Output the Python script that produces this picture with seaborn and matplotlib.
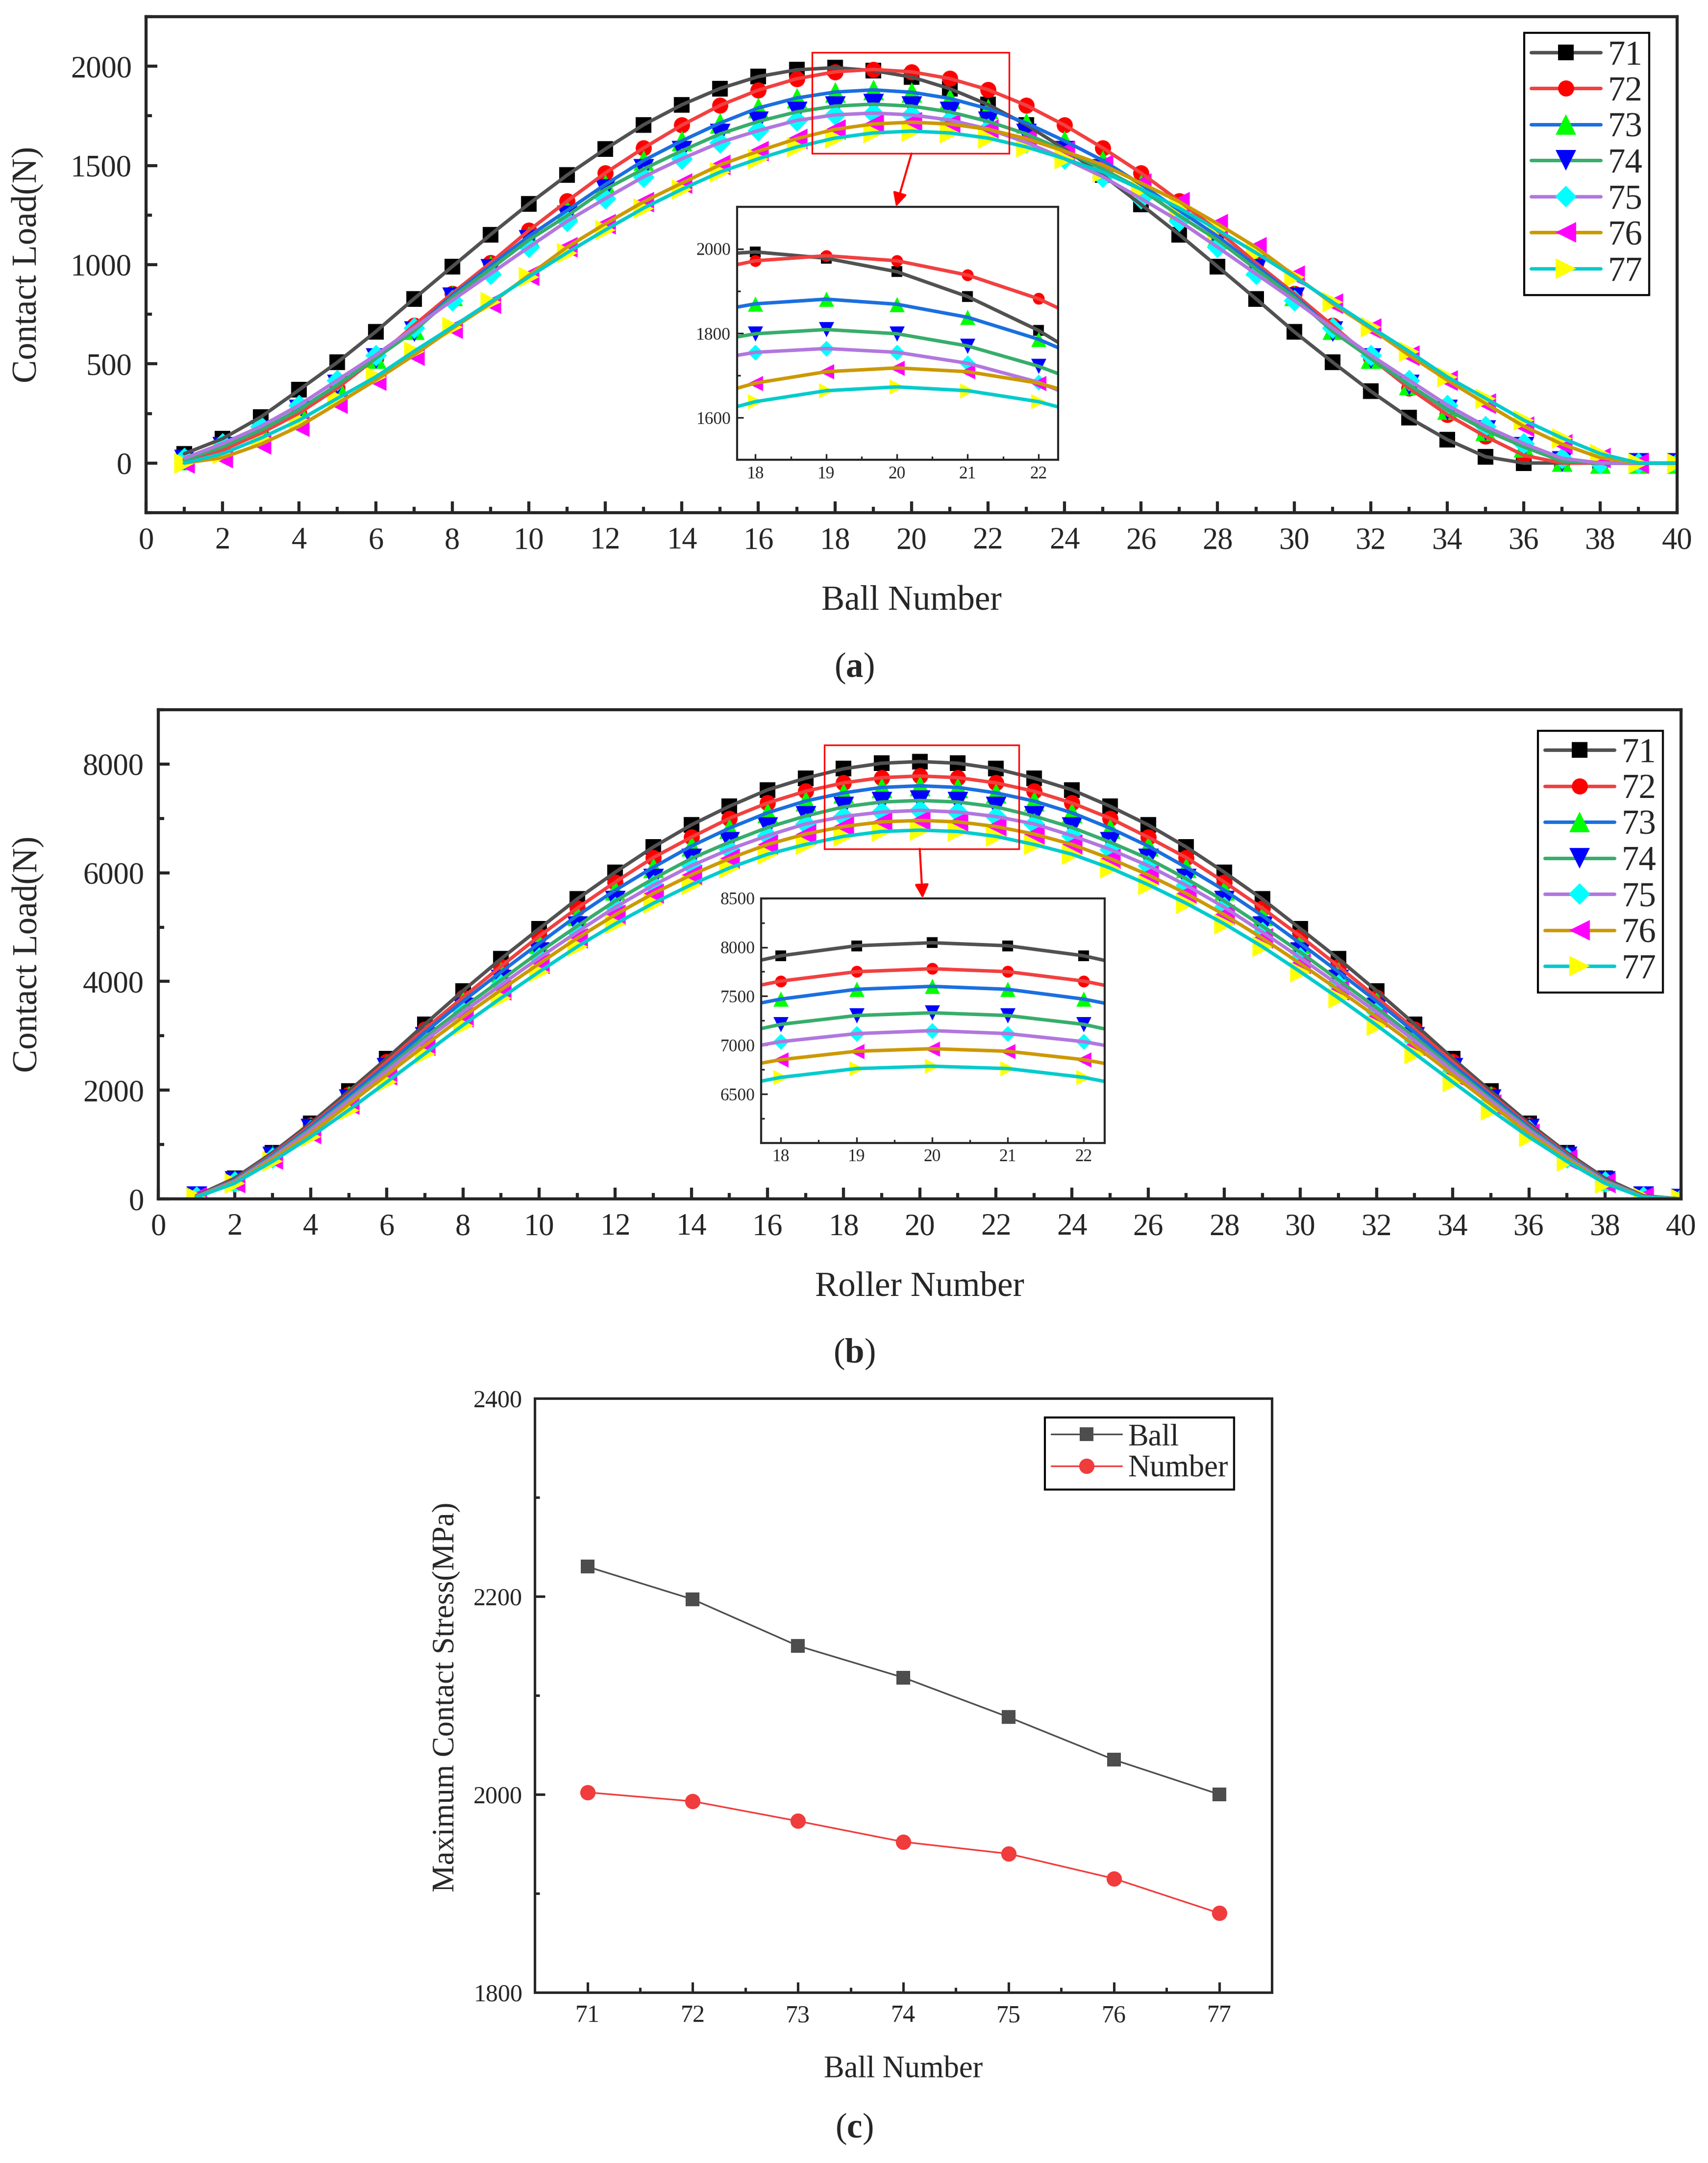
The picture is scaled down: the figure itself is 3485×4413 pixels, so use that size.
import numpy as np
import pandas as pd
import matplotlib
matplotlib.use("Agg")
import matplotlib.pyplot as plt
from matplotlib.lines import Line2D
from matplotlib.patches import Rectangle
from matplotlib.ticker import MultipleLocator, FixedLocator
import seaborn as sns

sns.set_style("ticks")
plt.rcParams['font.family'] = ['Liberation Serif', 'DejaVu Serif']
plt.rcParams['mathtext.fontset'] = 'custom'
plt.rcParams['mathtext.rm'] = 'Liberation Serif'
plt.rcParams['mathtext.bf'] = 'Liberation Serif:bold'

# ---- data ----
cases = ['71', '72', '73', '74', '75', '76', '77']
positions = list(range(1, 41))

# (a) ball contact load
a71 = [47, 123, 232, 369, 508, 662, 828, 990, 1151, 1306, 1451, 1583, 1705, 1806, 1888, 1948, 1982, 1993, 1978, 1946,
       1887, 1807, 1705, 1583, 1451, 1303, 1151, 990, 828, 662, 509, 362, 228, 118, 32, 0, 0, 0, 0, 0]
a72 = [16, 65, 150, 252, 378, 528, 694, 855, 1009, 1172, 1320, 1462, 1588, 1703, 1803, 1880, 1937, 1972, 1984, 1972,
       1938, 1882, 1803, 1703, 1588, 1462, 1320, 1172, 1009, 855, 694, 530, 378, 244, 134, 39, 0, 0, 0, 0]
a73 = [16, 82, 166, 270, 394, 528, 673, 844, 994, 1143, 1273, 1404, 1525, 1624, 1714, 1790, 1840, 1870, 1881, 1869,
       1838, 1786, 1714, 1624, 1525, 1404, 1273, 1143, 994, 844, 673, 528, 394, 270, 166, 82, 10, 0, 0, 0]
a74 = [16, 82, 166, 268, 394, 528, 665, 835, 978, 1124, 1246, 1380, 1482, 1574, 1659, 1722, 1770, 1799, 1809, 1799,
       1770, 1722, 1659, 1574, 1482, 1380, 1246, 1124, 978, 835, 665, 528, 394, 268, 166, 82, 10, 0, 0, 0]
a75 = [24, 98, 185, 292, 418, 544, 681, 820, 954, 1088, 1219, 1333, 1443, 1534, 1616, 1676, 1727, 1755, 1764, 1755,
       1729, 1684, 1616, 1534, 1443, 1333, 1219, 1088, 954, 820, 681, 544, 418, 292, 185, 98, 24, 0, 0, 0]
a76 = [0, 27, 95, 185, 300, 418, 544, 678, 804, 946, 1088, 1206, 1317, 1411, 1503, 1572, 1635, 1682, 1709, 1718,
       1709, 1682, 1635, 1572, 1503, 1411, 1317, 1206, 1088, 946, 804, 678, 544, 418, 300, 185, 95, 27, 0, 0]
a77 = [0, 47, 126, 216, 326, 434, 563, 686, 812, 938, 1060, 1175, 1285, 1380, 1467, 1534, 1593, 1638, 1664, 1673,
       1664, 1638, 1593, 1534, 1467, 1380, 1285, 1175, 1060, 938, 812, 686, 563, 434, 326, 216, 126, 47, 0, 0]

# (b) roller contact load
b71 = [60, 379, 853, 1394, 1983, 2584, 3215, 3828, 4417, 4970, 5517, 6010, 6473, 6881, 7224, 7525, 7741, 7913, 8015, 8046,
       8015, 7913, 7741, 7525, 7224, 6881, 6473, 6010, 5517, 4970, 4417, 3828, 3215, 2584, 1983, 1394, 853, 379, 60, 0]
b72 = [50, 349, 823, 1352, 1923, 2524, 3125, 3708, 4279, 4832, 5349, 5830, 6280, 6653, 7002, 7284, 7500, 7654, 7750, 7780,
       7750, 7654, 7500, 7284, 7002, 6653, 6280, 5830, 5349, 4832, 4279, 3708, 3125, 2524, 1923, 1352, 823, 349, 50, 0]
b73 = [45, 340, 800, 1322, 1893, 2464, 3065, 3636, 4177, 4700, 5211, 5679, 6100, 6491, 6821, 7104, 7320, 7470, 7570, 7600,
       7570, 7470, 7320, 7104, 6821, 6491, 6100, 5679, 5211, 4700, 4177, 3636, 3065, 2464, 1893, 1322, 800, 340, 45, 0]
b74 = [45, 330, 780, 1290, 1833, 2404, 2975, 3516, 4027, 4538, 5018, 5481, 5890, 6262, 6563, 6833, 7044, 7212, 7302, 7330,
       7302, 7212, 7044, 6833, 6563, 6262, 5890, 5481, 5018, 4538, 4027, 3516, 2975, 2404, 1833, 1290, 780, 330, 45, 0]
b75 = [40, 320, 760, 1260, 1803, 2356, 2915, 3438, 3937, 4435, 4910, 5367, 5770, 6130, 6431, 6683, 6900, 7035, 7117, 7148,
       7117, 7035, 6900, 6683, 6431, 6130, 5770, 5367, 4910, 4435, 3937, 3438, 2915, 2356, 1803, 1260, 760, 320, 40, 0]
b76 = [35, 300, 730, 1200, 1743, 2284, 2825, 3348, 3846, 4327, 4796, 5229, 5619, 5962, 6262, 6521, 6713, 6851, 6937, 6963,
       6937, 6851, 6713, 6521, 6262, 5962, 5619, 5229, 4796, 4327, 3846, 3348, 2825, 2284, 1743, 1200, 730, 300, 35, 0]
b77 = [30, 288, 691, 1142, 1635, 2152, 2674, 3197, 3696, 4177, 4640, 5061, 5439, 5782, 6088, 6341, 6521, 6670, 6760, 6784,
       6760, 6670, 6521, 6341, 6088, 5782, 5439, 5061, 4640, 4177, 3696, 3197, 2674, 2152, 1635, 1142, 691, 288, 30, 0]

# (c) maximum contact stress
spec_c = [71, 72, 73, 74, 75, 76, 77]
stress_ball = [2230, 2197, 2150, 2118, 2078, 2035, 2000]
stress_number = [2002, 1993, 1973, 1952, 1940, 1915, 1880]

line_colors = ['#515151', '#F14040', '#1A6FDF', '#37AD6B', '#B177DE', '#CC9900', '#00CBCC']
marker_colors = ['#000000', '#FF0000', '#00FF00', '#0000FF', '#00FFFF', '#FF00FF', '#FFFF00']
marker_shapes = ['s', 'o', '^', 'v', 'D', '<', '>']
# relative marker scale so that all shapes look about as big as in the original
marker_scale = {'s': 1.0, 'o': 1.05, '^': 1.35, 'v': 1.35, 'D': 1.0, '<': 1.35, '>': 1.35}

loads_a = [a71, a72, a73, a74, a75, a76, a77]
loads_b = [b71, b72, b73, b74, b75, b76, b77]


def draw_curves(ax, loads, ms, lw):
    for vals, lc, mc, mk in zip(loads, line_colors, marker_colors, marker_shapes):
        d = pd.DataFrame({'num': positions, 'load': vals})
        sns.lineplot(data=d, x='num', y='load', color=lc, lw=lw, ax=ax)
        size = (ms * marker_scale[mk]) ** 2
        sns.scatterplot(data=d, x='num', y='load', color=mc, marker=mk, s=size,
                        linewidth=0, ax=ax)


def style_main(ax):
    ax.set_xlim(0, 40)
    ax.xaxis.set_major_locator(MultipleLocator(2))
    ax.xaxis.set_minor_locator(MultipleLocator(1))
    ax.tick_params(which='both', direction='in', width=1.5, labelsize=15, pad=7)
    ax.tick_params(which='major', length=5.5)
    ax.tick_params(which='minor', length=2.8)
    for sp in ax.spines.values():
        sp.set_linewidth(1.5)


def style_inset(ax):
    ax.set_xlim(17.74, 22.28)
    ax.xaxis.set_major_locator(MultipleLocator(1))
    ax.xaxis.set_minor_locator(MultipleLocator(0.5))
    ax.tick_params(which='both', direction='in', width=0.8, labelsize=8.5, pad=3)
    ax.tick_params(which='major', length=3)
    ax.tick_params(which='minor', length=1.6)
    ax.set_xlabel('')
    ax.set_ylabel('')
    for sp in ax.spines.values():
        sp.set_linewidth(1.0)


def legend_handles():
    return [Line2D([], [], color=lc, lw=1.7, marker=mk, markerfacecolor=mc, markeredgewidth=0,
                   markersize=7.5 * marker_scale[mk])
            for lc, mc, mk in zip(line_colors, marker_colors, marker_shapes)]


fig = plt.figure(figsize=(3486 / 300, 4413 / 300), dpi=300)

# ---- (a) ----
ax_a = fig.add_axes([0.0855, 0.763, 0.896, 0.2293])
draw_curves(ax_a, loads_a, 7.5, 1.7)
style_main(ax_a)
ax_a.set_ylim(-250, 2250)
ax_a.yaxis.set_major_locator(MultipleLocator(500))
ax_a.yaxis.set_minor_locator(MultipleLocator(250))
ax_a.set_xlabel('Ball Number', fontsize=17)
ax_a.set_ylabel('Contact Load(N)', fontsize=17)
ax_a.xaxis.set_label_coords(0.5, -0.147)
ax_a.yaxis.set_label_coords(-0.067, 0.5)
ax_a.add_patch(Rectangle((17.4, 1560), 5.15, 510, fill=False, edgecolor='red', lw=0.8, zorder=5))
ax_a.legend(handles=legend_handles(), labels=cases, loc='upper right', bbox_to_anchor=(0.982, 0.967),
            fontsize=17, frameon=True, fancybox=False, edgecolor='black', framealpha=1,
            handlelength=2.0, handletextpad=0.2, labelspacing=0.12, borderpad=0.2, borderaxespad=0)
ax_a.get_legend().get_frame().set_linewidth(1.0)

ins_a = fig.add_axes([0.4314, 0.7874, 0.188, 0.117])
draw_curves(ins_a, loads_a, 5.5, 1.7)
style_inset(ins_a)
ins_a.set_ylim(1500, 2100)
ins_a.yaxis.set_major_locator(FixedLocator([1600, 1800, 2000]))
ins_a.yaxis.set_minor_locator(FixedLocator([1700, 1900]))
ax_a.annotate('', xy=(0.495, 1.0), xycoords=ins_a.transAxes, xytext=(20.0, 1560), textcoords='data',
              arrowprops=dict(arrowstyle='-|>', color='red', lw=1.0, mutation_scale=14, shrinkA=0, shrinkB=0))

# ---- (b) ----
ax_b = fig.add_axes([0.0927, 0.4457, 0.8913, 0.2262])
draw_curves(ax_b, loads_b, 7.5, 1.7)
style_main(ax_b)
ax_b.set_ylim(0, 9000)
ax_b.yaxis.set_major_locator(MultipleLocator(2000))
ax_b.yaxis.set_minor_locator(MultipleLocator(1000))
ax_b.set_xlabel('Roller Number', fontsize=17)
ax_b.set_ylabel('Contact Load(N)', fontsize=17)
ax_b.xaxis.set_label_coords(0.5, -0.149)
ax_b.yaxis.set_label_coords(-0.075, 0.5)
ax_b.add_patch(Rectangle((17.5, 6440), 5.1, 1910, fill=False, edgecolor='red', lw=0.8, zorder=5))
ax_b.legend(handles=legend_handles(), labels=cases, loc='upper right', bbox_to_anchor=(0.988, 0.957),
            fontsize=17, frameon=True, fancybox=False, edgecolor='black', framealpha=1,
            handlelength=2.0, handletextpad=0.2, labelspacing=0.12, borderpad=0.2, borderaxespad=0)
ax_b.get_legend().get_frame().set_linewidth(1.0)

ins_b = fig.add_axes([0.4455, 0.4716, 0.2011, 0.1131])
draw_curves(ins_b, loads_b, 5.5, 1.7)
style_inset(ins_b)
ins_b.set_ylim(6000, 8500)
ins_b.yaxis.set_major_locator(FixedLocator([6500, 7000, 7500, 8000, 8500]))
ins_b.yaxis.set_minor_locator(FixedLocator([6250, 6750, 7250, 7750, 8250]))
ax_b.annotate('', xy=(0.47, 1.0), xycoords=ins_b.transAxes, xytext=(20.0, 6440), textcoords='data',
              arrowprops=dict(arrowstyle='-|>', color='red', lw=1.0, mutation_scale=14, shrinkA=0, shrinkB=0))

# ---- (c) ----
ax_c = fig.add_axes([0.313, 0.0789, 0.4314, 0.2746])
df_c = pd.DataFrame({'spec': spec_c, 'ball': stress_ball, 'number': stress_number})
sns.lineplot(data=df_c, x='spec', y='ball', color='#4D4D4D', lw=0.8, marker='s', markersize=6.5,
             markeredgewidth=0, ax=ax_c, label='Ball')
sns.lineplot(data=df_c, x='spec', y='number', color='#F03C3C', lw=0.8, marker='o', markersize=7.5,
             markeredgewidth=0, ax=ax_c, label='Number')
ax_c.set_xlim(70.5, 77.5)
ax_c.set_ylim(1800, 2400)
ax_c.xaxis.set_major_locator(MultipleLocator(1))
ax_c.xaxis.set_minor_locator(MultipleLocator(0.5))
ax_c.yaxis.set_major_locator(MultipleLocator(200))
ax_c.yaxis.set_minor_locator(MultipleLocator(100))
ax_c.tick_params(which='both', direction='in', width=1.2, labelsize=12, pad=6)
ax_c.tick_params(which='major', length=5)
ax_c.tick_params(which='minor', length=2.5)
for sp in ax_c.spines.values():
    sp.set_linewidth(1.2)
ax_c.set_xlabel('Ball Number', fontsize=15)
ax_c.set_ylabel('Maximum Contact Stress(MPa)', fontsize=15)
ax_c.xaxis.set_label_coords(0.5, -0.107)
ax_c.yaxis.set_label_coords(-0.101, 0.497)
leg_c = ax_c.legend(loc='upper right', bbox_to_anchor=(0.949, 0.968), fontsize=15, frameon=True,
                    fancybox=False, edgecolor='black', framealpha=1, handlelength=2.3,
                    handletextpad=0.2, labelspacing=0.1, borderpad=0.2, borderaxespad=0)
leg_c.get_frame().set_linewidth(1.0)

# captions
fig.text(0.5, 0.691, r'($\mathbf{a}$)', ha='center', va='center', fontsize=17)
fig.text(0.5, 0.374, r'($\mathbf{b}$)', ha='center', va='center', fontsize=17)
fig.text(0.5, 0.0159, r'($\mathbf{c}$)', ha='center', va='center', fontsize=17)

fig.savefig('out.png', dpi=300, facecolor='white')
